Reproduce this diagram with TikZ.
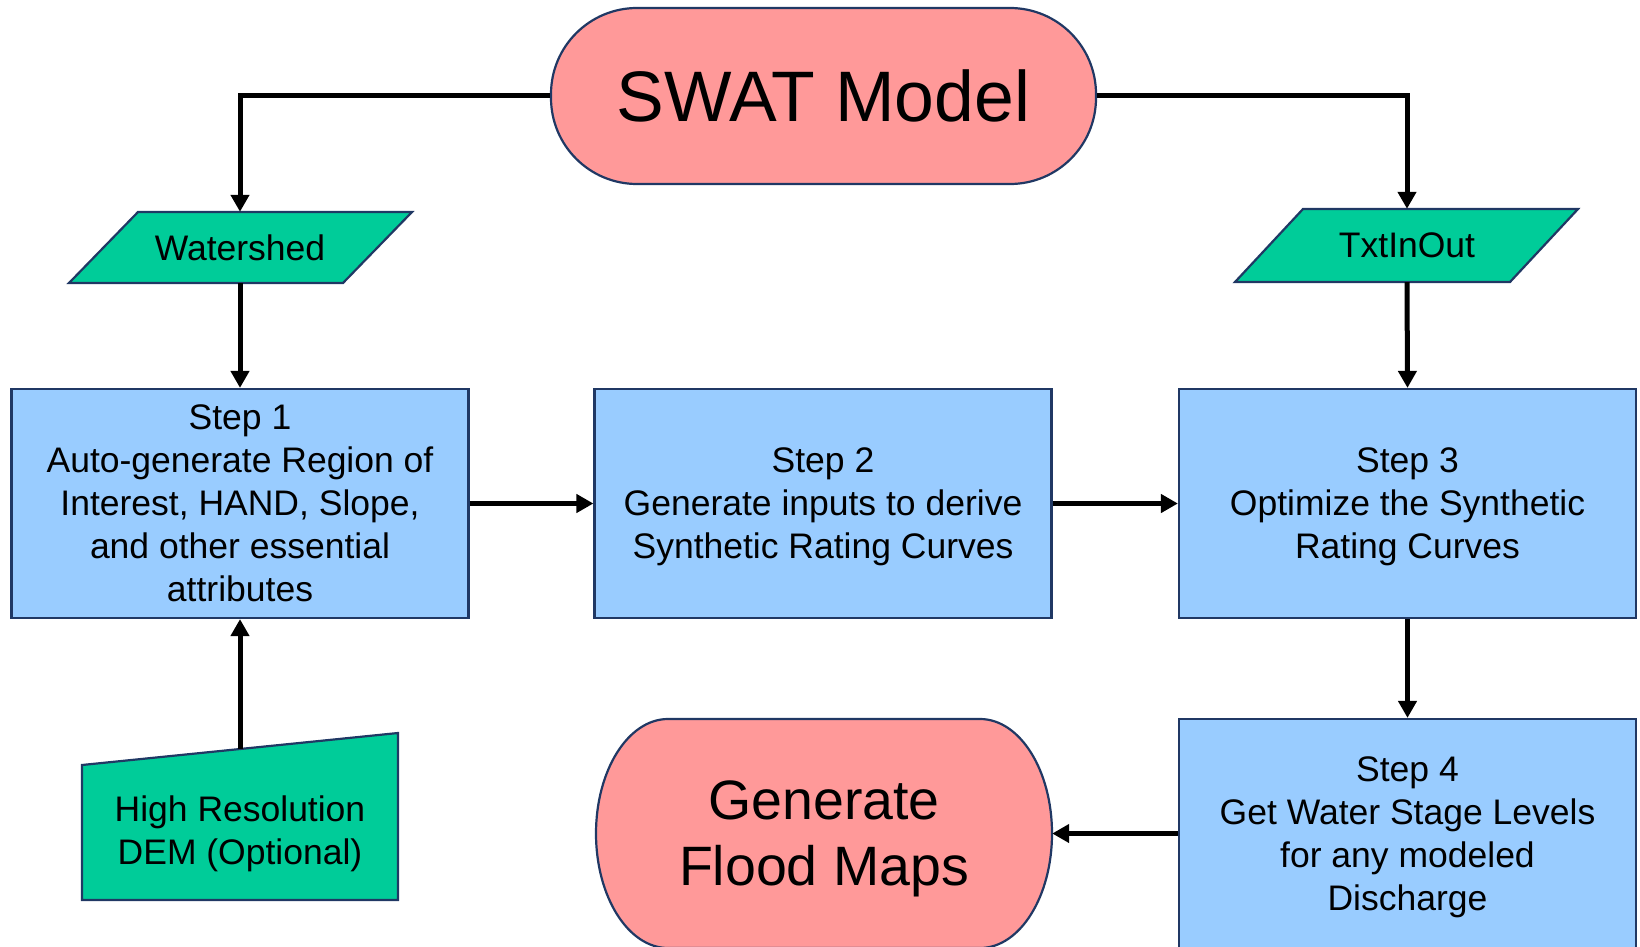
\documentclass[tikz,border=0pt]{standalone}
\usepackage{fontspec}
\setmainfont{Liberation Sans}
\usetikzlibrary{arrows.meta}
\definecolor{edge}{HTML}{203864}
\definecolor{pinkfill}{HTML}{FF9999}
\definecolor{bluefill}{HTML}{99CCFF}
\definecolor{greenfill}{HTML}{00CC99}

\begin{document}
\begin{tikzpicture}[x=1pt,y=-1pt,
  outline/.style={draw=edge, line width=2.2pt},
  stepbox/.style={outline, fill=bluefill, minimum width=457pt, minimum height=229pt,
    inner sep=0pt, align=center, text depth=0pt, font=\fontsize{35.5}{43}\selectfont},
  iobox/.style={outline, fill=greenfill},
  termfill/.style={outline, fill=pinkfill},
  label36/.style={inner sep=0pt, align=center, font=\fontsize{35.5}{43}\selectfont},
  arr/.style={line width=5pt, -{Triangle[length=17pt,width=18pt]}}
]
\useasboundingbox (0,0) rectangle (1640,947);

% start terminal
\node[termfill, rounded corners=86pt, minimum width=545pt, minimum height=176pt,
      inner sep=0pt, font=\fontsize{71.5}{80}\selectfont] (swat) at (823.5,96) {SWAT Model};

% input data (parallelograms)
\draw[iobox] (138,212) -- (412,212) -- (343,283) -- (69,283) -- cycle;
\node[label36, minimum width=274pt, minimum height=71pt] (ws) at (240,247.5) {Watershed};
\draw[iobox] (1303,209) -- (1578,209) -- (1510,282) -- (1235,282) -- cycle;
\node[label36, minimum width=275pt, minimum height=73pt] (txt) at (1407,245.5) {TxtInOut};

% processing steps
\node[stepbox] (s1) at (240,503.5) {Step 1\\Auto-generate Region of\\Interest, HAND, Slope,\\and other essential\\attributes};
\node[stepbox] (s2) at (823,503.5) {Step 2\\Generate inputs to derive\\Synthetic Rating Curves};
\node[stepbox] (s3) at (1407.5,503.5) {Step 3\\Optimize the Synthetic\\Rating Curves};
\node[stepbox] (s4) at (1407.5,833.5) {Step 4\\Get Water Stage Levels\\for any modeled\\Discharge};

% manual input (DEM)
\draw[iobox] (82,765) -- (398,733) -- (398,900) -- (82,900) -- cycle;
\coordinate (demtop) at (240,749);
\node[label36] (dem) at (240,834) {High Resolution\\DEM (Optional)};

% end terminal
\path[termfill] (668,719) -- (980,719)
  .. controls (1019.8,719) and (1052,770.3) .. (1052,833.5)
  .. controls (1052,896.7) and (1019.8,948) .. (980,948)
  -- (668,948)
  .. controls (628.2,948) and (596,896.7) .. (596,833.5)
  .. controls (596,770.3) and (628.2,719) .. (668,719) -- cycle;
\node[inner sep=0pt, minimum width=456pt, minimum height=229pt, align=center,
      text depth=0pt, font=\fontsize{55.5}{66}\selectfont] (flood) at (824,833.5) {Generate\\Flood Maps};

% connectors
\draw[arr] (swat.west) -| (ws.north);
\draw[arr] (swat.east) -| (txt.north);
\draw[arr] (ws.south) -- (s1.north);
\draw[arr] (txt.south) -- (s3.north);
\draw[arr] (s1.east) -- (s2.west);
\draw[arr] (s2.east) -- (s3.west);
\draw[arr] (s3.south) -- (s4.north);
\draw[arr] (s4.west) -- (flood.east);
\draw[arr] (demtop) -- (s1.south);
\end{tikzpicture}
\end{document}
